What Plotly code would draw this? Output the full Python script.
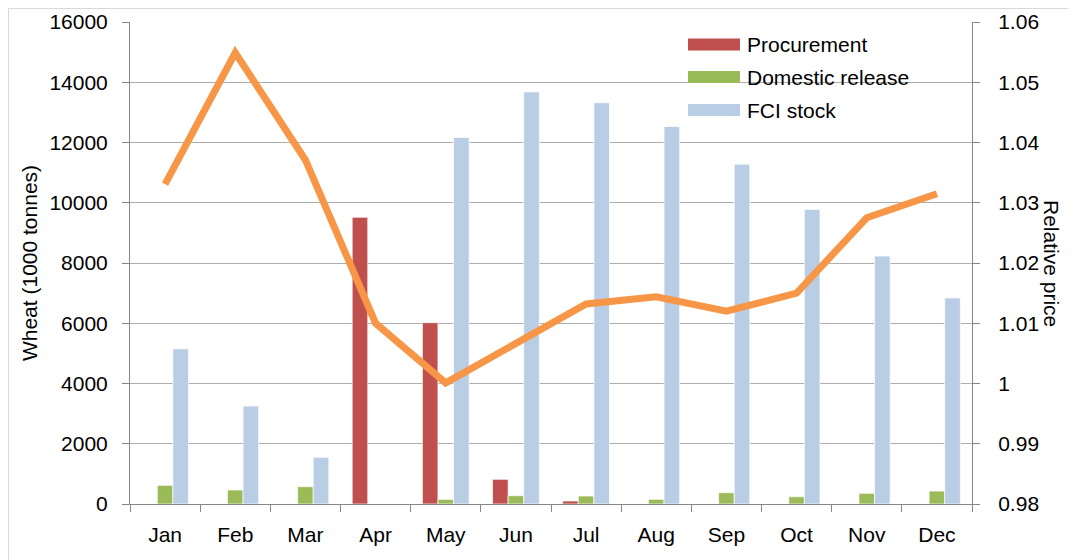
import plotly.graph_objects as go

months = ["Jan", "Feb", "Mar", "Apr", "May", "Jun", "Jul", "Aug", "Sep", "Oct", "Nov", "Dec"]
procurement = [0, 0, 0, 9520, 6020, 820, 100, 0, 0, 0, 0, 0]
domestic_release = [620, 465, 575, 0, 155, 277, 265, 155, 375, 243, 355, 430]
fci_stock = [5150, 3250, 1550, 0, 12170, 13680, 13320, 12530, 11280, 9780, 8230, 6840]
relative_price = [1.0331, 1.0549, 1.0371, 1.0100, 1.0001, 1.0067, 1.0132, 1.0144,
                  1.0120, 1.0150, 1.0275, 1.0315]

series_names = ["Procurement", "Domestic release", "FCI stock"]
series_colors = ["#C0504D", "#9BBB59", "#B9CDE5"]

left_ticks = [0, 2000, 4000, 6000, 8000, 10000, 12000, 14000, 16000]
right_ticks = [0.98, 0.99, 1.00, 1.01, 1.02, 1.03, 1.04, 1.05, 1.06]
right_labels = ["0.98", "0.99", "1", "1.01", "1.02", "1.03", "1.04", "1.05", "1.06"]

FONT = "Liberation Sans, Arial, sans-serif"
FS = 21
AXIS = "#868686"
GRID = "#ADADAD"

fig = go.Figure()
bar_line = dict(color="rgba(255,255,255,0.7)", width=1)
for vals, name, col in zip([procurement, domestic_release, fci_stock], series_names, series_colors):
    fig.add_trace(go.Bar(x=months, y=vals, name=name, showlegend=False,
                         marker=dict(color=col, line=bar_line)))
fig.add_trace(go.Scatter(x=months, y=relative_price, name="Relative price",
                         mode="lines", yaxis="y2", showlegend=False,
                         line=dict(color="#F79646", width=7)))

# page offset (body margin of 8px) compensation
OFF = 8
W, H = 1076 - OFF, 560 - OFF
# plot area in page coordinates
PL, PR, PT, PB = 130, 972, 22, 504
L, T = PL - OFF, PT - OFF
R, B = W - (PR - OFF), H - (PB - OFF)
pw, ph = PR - PL, PB - PT

def px_x(x):
    return (x - PL) / pw

def px_y(y):
    return 1 + (PT - y) / ph

shapes = [
    dict(type="line", xref="paper", yref="paper", x0=px_x(8.5), x1=px_x(8.5),
         y0=px_y(570), y1=px_y(8.5), line=dict(color="#D9D9D9", width=1)),
    dict(type="line", xref="paper", yref="paper", x0=px_x(8.5), x1=px_x(1090),
         y0=px_y(8.5), y1=px_y(8.5), line=dict(color="#D9D9D9", width=1)),
]
annotations = [dict(text="Relative price", xref="paper", yref="paper",
                    x=px_x(1052), y=0.5, textangle=90, showarrow=False,
                    font=dict(size=FS), xanchor="center", yanchor="middle")]

# legend (swatches + labels)
leg_y = [44.5, 77, 110]
for name, col, yc in zip(series_names, series_colors, leg_y):
    shapes.append(dict(type="rect", xref="paper", yref="paper",
                       x0=px_x(688), x1=px_x(740), y0=px_y(yc + 6), y1=px_y(yc - 6),
                       fillcolor=col, line=dict(width=0)))
    annotations.append(dict(text=name, xref="paper", yref="paper", x=px_x(745), y=px_y(yc),
                            xanchor="left", yanchor="middle", showarrow=False,
                            font=dict(size=FS)))

fig.update_layout(
    width=W, height=H,
    margin=dict(l=L, r=R, t=T, b=B, pad=0, autoexpand=False),
    paper_bgcolor="white", plot_bgcolor="white",
    font=dict(family=FONT, size=FS, color="#000000"),
    barmode="group", bargap=0.333, bargroupgap=0,
    xaxis=dict(type="category", showline=True, linecolor=AXIS, linewidth=1,
               ticks="outside", tickson="boundaries", ticklen=7, tickcolor=AXIS,
               showgrid=False, tickfont=dict(size=FS), ticklabelstandoff=12,
               automargin=False),
    yaxis=dict(range=[0, 16000], tickvals=left_ticks, ticktext=[str(v) for v in left_ticks],
               showline=True, linecolor=AXIS, linewidth=1, ticks="outside", ticklen=7,
               tickcolor=AXIS, showgrid=True, gridcolor=GRID, gridwidth=1,
               zeroline=False, ticklabelstandoff=10, automargin=False,
               title=dict(text="Wheat (1000 tonnes)", standoff=6, font=dict(size=FS))),
    yaxis2=dict(range=[0.98, 1.06], overlaying="y", side="right",
                tickvals=right_ticks, ticktext=right_labels,
                showline=True, linecolor=AXIS, linewidth=1, ticks="outside", ticklen=7,
                tickcolor=AXIS, showgrid=False, zeroline=False, tickfont=dict(size=FS),
                ticklabelstandoff=14, automargin=False),
    showlegend=False,
    annotations=annotations,
    shapes=shapes,
)

fig.write_html("out.html")
